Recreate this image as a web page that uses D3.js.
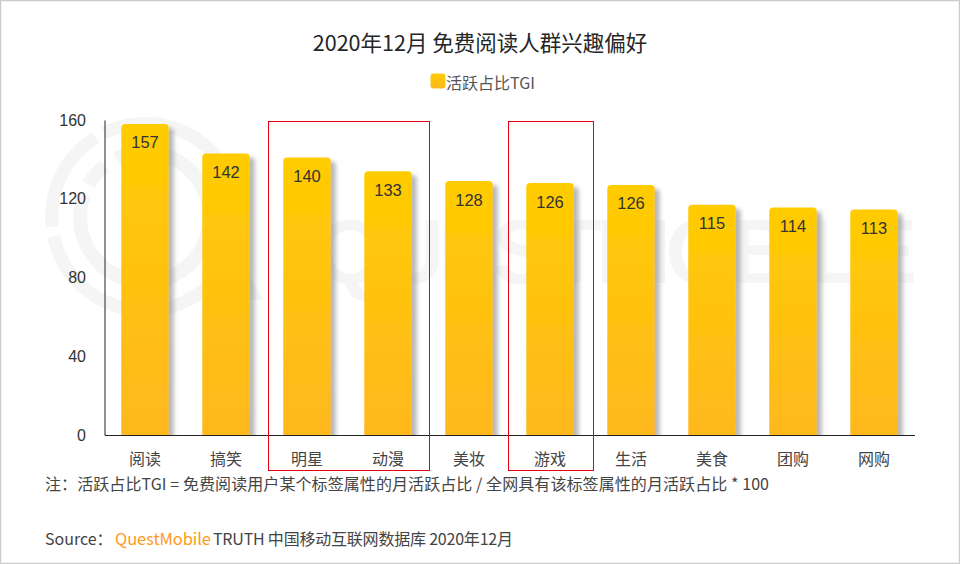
<!DOCTYPE html>
<html>
<head>
<meta charset="utf-8">
<script src="https://cdn.jsdelivr.net/npm/d3@7"></script>
<style>
  html, body { margin: 0; padding: 0; background: #fff; }
  svg { display: block; }
  text { font-family: "Noto Sans CJK SC", sans-serif; }
  text.num { font-family: "Liberation Sans", Arial, sans-serif; }
</style>
</head>
<body>
<div id="chart"></div>
<script>
  var categories = ['阅读', '搞笑', '明星', '动漫', '美妆', '游戏', '生活', '美食', '团购', '网购'];
  var tgiLabels = [157, 142, 140, 133, 128, 126, 126, 115, 114, 113];
  // bar heights as drawn in the picture, they sit a little above the printed labels
  var barHeights = [158, 143, 141, 134, 129, 128, 127, 117, 115.5, 114.5];
  var yTicks = [0, 40, 80, 120, 160];
  var boxedGroups = [['明星', '动漫'], ['游戏']];

  var width = 960
    , height = 564
    , axisX = 104.5
    , axisRight = 914.5
    , axisTop = 120
    , axisBottom = 435;

  var svg = d3.select('#chart').append('svg')
    .attr('width', width)
    .attr('height', height);

  var defs = svg.append('defs');

  var grad = defs.append('linearGradient')
    .attr('id', 'barFill')
    .attr('x1', 0).attr('y1', 0).attr('x2', 0).attr('y2', 1);
  grad.append('stop').attr('offset', '0%').attr('stop-color', '#ffcc00');
  grad.append('stop').attr('offset', '100%').attr('stop-color', '#ffb81f');

  var shadow = defs.append('filter')
    .attr('id', 'barShadow')
    .attr('x', '-20%').attr('y', '-5%').attr('width', '150%').attr('height', '115%');
  shadow.append('feDropShadow')
    .attr('dx', 5).attr('dy', 4).attr('stdDeviation', 2)
    .attr('flood-color', '#888').attr('flood-opacity', 0.6);

  defs.append('clipPath').attr('id', 'plotClip').append('rect')
    .attr('x', 0).attr('y', 0).attr('width', width).attr('height', axisBottom);

  // page frame
  svg.append('rect')
    .attr('x', 0.5).attr('y', 0.5)
    .attr('width', width - 1).attr('height', height - 1)
    .attr('fill', '#fff').attr('stroke', '#cccccc').attr('stroke-width', 1.5);

  // watermark
  var mark = svg.append('g').attr('fill', '#f5f5f5');
  var arc = d3.arc();
  var rad = Math.PI / 180;
  [
    [87, 100, -26, 258],
    [87, 100, -96, -32],
    [58, 72, -26, 290],
    [58, 72, -60, -38]
  ].forEach(function(s) {
    mark.append('path')
      .attr('transform', 'translate(145,217)')
      .attr('d', arc({innerRadius: s[0], outerRadius: s[1], startAngle: s[2] * rad, endAngle: s[3] * rad}));
  });
  mark.append('path').attr('d', 'M222,262L236,255L264,300L248,300Z');
  mark.append('text')
    .attr('class', 'num')
    .attr('x', 315).attr('y', 283)
    .attr('textLength', 602)
    .attr('lengthAdjust', 'spacing')
    .attr('font-size', 90)
    .attr('font-weight', 'bold')
    .text('QUESTMOBILE');

  var x = d3.scaleBand()
    .domain(categories)
    .range([axisX, axisRight])
    .paddingInner(0.414)
    .paddingOuter(0.207);

  var y = d3.scaleLinear()
    .domain([0, 160])
    .range([axisBottom, axisTop]);

  // bars, rounded on top only
  function barPath(i) {
    var x0 = x(categories[i])
      , x1 = x0 + x.bandwidth()
      , top = y(barHeights[i])
      , r = 4;
    return 'M' + x0 + ',' + axisBottom + 'V' + (top + r) + 'Q' + x0 + ',' + top + ' ' + (x0 + r) + ',' + top
      + 'H' + (x1 - r) + 'Q' + x1 + ',' + top + ' ' + x1 + ',' + (top + r) + 'V' + axisBottom + 'Z';
  }

  svg.append('g')
    .attr('clip-path', 'url(#plotClip)')
    .selectAll('path')
    .data(categories)
    .enter().append('path')
    .attr('d', function(d, i) { return barPath(i); })
    .attr('fill', 'url(#barFill)')
    .attr('filter', 'url(#barShadow)');

  svg.append('g')
    .selectAll('text')
    .data(tgiLabels)
    .enter().append('text')
    .attr('class', 'num')
    .attr('x', function(d, i) { return x(categories[i]) + x.bandwidth() / 2; })
    .attr('y', function(d, i) { return y(barHeights[i]) + 24.5; })
    .attr('text-anchor', 'middle')
    .attr('font-size', 16.5)
    .attr('fill', '#333')
    .text(function(d) { return d; });

  // axes
  var yAxis = svg.append('g')
    .attr('transform', 'translate(' + axisX + ',0)')
    .call(d3.axisLeft(y).tickValues(yTicks).tickSize(0).tickPadding(18.5));
  yAxis.selectAll('text').attr('font-size', 16).attr('fill', '#333')
    .style('font-family', '"Liberation Sans", Arial, sans-serif');
  yAxis.select('.domain').attr('stroke', '#222').attr('stroke-width', 1);

  var xAxis = svg.append('g')
    .attr('transform', 'translate(0,' + axisBottom + ')')
    .call(d3.axisBottom(x).tickSize(0).tickPadding(18.5));
  xAxis.selectAll('text').attr('font-size', 16).attr('fill', '#444')
    .style('font-family', '"Noto Sans CJK SC", sans-serif');
  xAxis.select('.domain').attr('stroke', '#222').attr('stroke-width', 1);

  // highlight boxes, not centred on the bars in the picture
  function boxLeft(g, i) { return Math.round(x(g[0]) - [15.5, 18.5][i]) + 0.5; }
  function boxRight(g, i) { return Math.round(x(g[g.length - 1]) + x.bandwidth() + [17.5, 19.5][i]) + 0.5; }

  svg.append('g')
    .selectAll('rect')
    .data(boxedGroups)
    .enter().append('rect')
    .attr('x', boxLeft)
    .attr('y', 121.5)
    .attr('width', function(g, i) { return boxRight(g, i) - boxLeft(g, i); })
    .attr('height', 349)
    .attr('fill', 'none')
    .attr('stroke', '#e60012')
    .attr('stroke-width', 1);

  // title
  svg.append('text')
    .attr('x', 480).attr('y', 51)
    .attr('text-anchor', 'middle')
    .attr('font-size', 21.5)
    .attr('fill', '#262626')
    .text('2020年12月 免费阅读人群兴趣偏好');

  // legend
  svg.append('rect')
    .attr('x', 430.5).attr('y', 73.5)
    .attr('width', 15).attr('height', 15).attr('rx', 3)
    .attr('fill', 'url(#barFill)');
  svg.append('text')
    .attr('x', 446).attr('y', 88.5)
    .attr('font-size', 16)
    .attr('fill', '#555')
    .text('活跃占比TGI');

  // footnotes
  svg.append('text')
    .attr('x', 45).attr('y', 490)
    .attr('font-size', 16)
    .attr('textLength', 724)
    .attr('fill', '#444')
    .text('注：活跃占比TGI = 免费阅读用户某个标签属性的月活跃占比 / 全网具有该标签属性的月活跃占比 * 100');

  var source = svg.append('text')
    .attr('x', 45).attr('y', 544.5)
    .attr('font-size', 16)
    .attr('fill', '#444');
  source.append('tspan').text('Source：');
  source.append('tspan').attr('x', 115).attr('fill', '#ff9a1e').attr('font-size', 16.5).attr('textLength', 96).text('QuestMobile');
  source.append('tspan').attr('x', 213).attr('textLength', 300).text('TRUTH 中国移动互联网数据库 2020年12月');
</script>
</body>
</html>
